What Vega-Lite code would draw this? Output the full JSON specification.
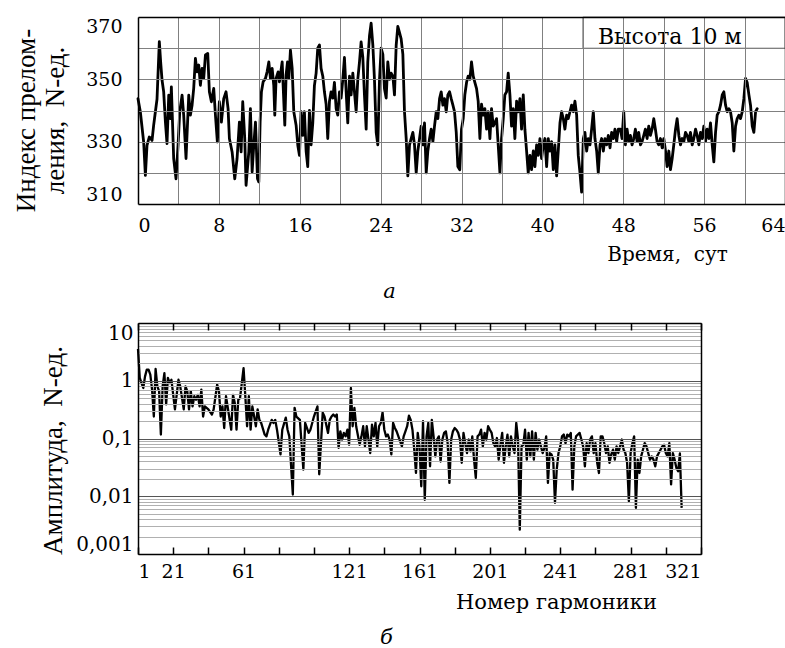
{
"$schema": "https://vega.github.io/schema/vega-lite/v6.json",
"padding": {"left": 11, "top": 16, "right": 0, "bottom": 0},
"bounds": "flush",
"spacing": 119,
"config": {
 "font": "DejaVu Serif",
 "view": {"stroke": null},
 "axis": {"labelFont": "DejaVu Serif", "titleFont": "DejaVu Serif", "labelColor": "black", "titleColor": "black", "titleFontWeight": "normal"},
 "title": {"font": "DejaVu Serif", "color": "black"},
 "text": {"font": "DejaVu Serif"}
},
"datasets": {
 "ts": [
{"t":0,"v":343.8},{"t":0.23,"v":339.6},{"t":0.56,"v":329.9},{"t":0.73,"v":319.2},{"t":0.89,"v":328.8},{"t":1.12,"v":331.5},{"t":1.39,"v":330.4},{"t":1.55,"v":335.3},{"t":1.72,"v":339.6},{"t":1.88,"v":343.6},{"t":2.11,"v":362.1},{"t":2.24,"v":355.6},{"t":2.38,"v":349.7},{"t":2.54,"v":346.0},{"t":2.71,"v":336.3},{"t":2.87,"v":329.4},{"t":3.04,"v":344.9},{"t":3.20,"v":337.4},{"t":3.30,"v":347.6},{"t":3.53,"v":324.6},{"t":3.76,"v":318.1},{"t":3.96,"v":328.8},{"t":4.13,"v":339.6},{"t":4.36,"v":344.9},{"t":4.52,"v":338.5},{"t":4.75,"v":324.6},{"t":5.02,"v":344.9},{"t":5.18,"v":338.5},{"t":5.35,"v":341.7},{"t":5.51,"v":347.1},{"t":5.68,"v":356.7},{"t":5.84,"v":352.4},{"t":6.01,"v":354.6},{"t":6.17,"v":348.1},{"t":6.34,"v":353.5},{"t":6.50,"v":350.3},{"t":6.67,"v":357.8},{"t":6.90,"v":358.3},{"t":7.06,"v":346.0},{"t":7.26,"v":342.8},{"t":7.49,"v":347.1},{"t":7.66,"v":338.5},{"t":7.85,"v":329.9},{"t":8.05,"v":342.8},{"t":8.25,"v":336.3},{"t":8.48,"v":343.8},{"t":8.71,"v":346.0},{"t":8.91,"v":340.6},{"t":9.04,"v":331.0},{"t":9.31,"v":326.7},{"t":9.57,"v":318.1},{"t":9.80,"v":324.6},{"t":10.03,"v":336.3},{"t":10.20,"v":326.7},{"t":10.36,"v":342.8},{"t":10.56,"v":331.0},{"t":10.69,"v":316.0},{"t":10.96,"v":326.7},{"t":11.12,"v":340.6},{"t":11.29,"v":320.3},{"t":11.45,"v":328.8},{"t":11.62,"v":336.3},{"t":11.82,"v":318.1},{"t":11.95,"v":317.1},{"t":12.08,"v":336.3},{"t":12.21,"v":346.0},{"t":12.38,"v":349.2},{"t":12.61,"v":350.3},{"t":12.77,"v":352.4},{"t":12.94,"v":355.6},{"t":13.10,"v":350.3},{"t":13.27,"v":353.5},{"t":13.43,"v":348.1},{"t":13.53,"v":338.5},{"t":13.66,"v":350.3},{"t":13.86,"v":352.4},{"t":13.99,"v":349.2},{"t":14.26,"v":355.6},{"t":14.52,"v":335.3},{"t":14.65,"v":351.4},{"t":14.79,"v":355.6},{"t":14.92,"v":350.3},{"t":15.08,"v":359.4},{"t":15.25,"v":353.5},{"t":15.41,"v":339.6},{"t":15.64,"v":335.3},{"t":15.81,"v":328.8},{"t":15.97,"v":325.6},
{"t":16.13,"v":339.6},{"t":16.30,"v":332},{"t":16.46,"v":339.6},{"t":16.63,"v":327},{"t":16.79,"v":322},{"t":16.96,"v":340},{"t":17.12,"v":329},{"t":17.29,"v":336},{"t":17.45,"v":348},{"t":17.62,"v":352},{"t":17.78,"v":360},{"t":17.95,"v":361},{"t":18.11,"v":353.5},{"t":18.28,"v":351},{"t":18.44,"v":346},{"t":18.61,"v":342},{"t":18.77,"v":331},{"t":18.94,"v":343},{"t":19.10,"v":346},{"t":19.27,"v":344},{"t":19.43,"v":349},{"t":19.60,"v":340.6},{"t":19.76,"v":338.5},{"t":19.93,"v":346},{"t":20.09,"v":344},{"t":20.26,"v":350},{"t":20.42,"v":357},{"t":20.59,"v":346},{"t":20.75,"v":336},{"t":20.92,"v":351},{"t":21.08,"v":345},{"t":21.25,"v":352},{"t":21.41,"v":346},{"t":21.58,"v":339.6},{"t":21.74,"v":350},{"t":21.91,"v":355.6},{"t":22.07,"v":362},{"t":22.24,"v":357},{"t":22.40,"v":345},{"t":22.57,"v":334},{"t":22.73,"v":355.6},{"t":22.90,"v":364},{"t":23.06,"v":368},{"t":23.23,"v":361},{"t":23.39,"v":350},{"t":23.56,"v":333},{"t":23.72,"v":329},{"t":23.89,"v":350},{"t":24.05,"v":360},{"t":24.22,"v":358},{"t":24.38,"v":347},{"t":24.55,"v":344},{"t":24.71,"v":355.6},{"t":24.88,"v":350},{"t":25.04,"v":352},{"t":25.21,"v":351},{"t":25.37,"v":345},{"t":25.54,"v":361},{"t":25.70,"v":367},{"t":25.87,"v":365},{"t":26.03,"v":363},{"t":26.20,"v":358},{"t":26.36,"v":339.6},{"t":26.53,"v":331},{"t":26.69,"v":319},{"t":26.86,"v":329},{"t":27.02,"v":331},{"t":27.19,"v":333},{"t":27.35,"v":329},{"t":27.52,"v":320},{"t":27.68,"v":327},{"t":27.85,"v":331},{"t":28.01,"v":335},{"t":28.18,"v":329},{"t":28.34,"v":336},{"t":28.51,"v":320},{"t":28.67,"v":327},{"t":28.84,"v":331},{"t":29.00,"v":334},{"t":29.17,"v":330},{"t":29.33,"v":335},{"t":29.50,"v":339.6},{"t":29.66,"v":337.4},{"t":29.83,"v":343.8},{"t":29.99,"v":346},{"t":30.16,"v":341.7},{"t":30.32,"v":343.8},{"t":30.49,"v":339.6},{"t":30.65,"v":345},{"t":30.82,"v":346},{"t":30.98,"v":343.8},{"t":31.15,"v":341.7},{"t":31.31,"v":339.6},{"t":31.48,"v":333},{"t":31.64,"v":322},
{"t":31.83,"v":321},{"t":32.00,"v":334},{"t":32.17,"v":337.4},{"t":32.33,"v":345},{"t":32.50,"v":349},{"t":32.66,"v":351},{"t":32.83,"v":350},{"t":32.99,"v":355.6},{"t":33.16,"v":351},{"t":33.32,"v":349},{"t":33.49,"v":347},{"t":33.65,"v":343},{"t":33.82,"v":331},{"t":33.98,"v":342},{"t":34.15,"v":338.5},{"t":34.31,"v":340.6},{"t":34.48,"v":334},{"t":34.64,"v":339.6},{"t":34.81,"v":331},{"t":34.97,"v":340.6},{"t":35.14,"v":335},{"t":35.30,"v":336},{"t":35.47,"v":337.4},{"t":35.63,"v":329},{"t":35.80,"v":320},{"t":35.96,"v":331},{"t":36.13,"v":337.4},{"t":36.29,"v":345},{"t":36.46,"v":346},{"t":36.62,"v":352},{"t":36.79,"v":345},{"t":36.95,"v":335},{"t":37.12,"v":340.6},{"t":37.28,"v":331},{"t":37.45,"v":343},{"t":37.61,"v":339.6},{"t":37.78,"v":343.8},{"t":37.94,"v":334},{"t":38.11,"v":345},{"t":38.27,"v":334},{"t":38.44,"v":327},{"t":38.60,"v":320},{"t":38.77,"v":325.6},{"t":38.93,"v":321},{"t":39.10,"v":327},{"t":39.26,"v":322},{"t":39.43,"v":329},{"t":39.59,"v":325.6},{"t":39.76,"v":331},{"t":39.92,"v":324.6},{"t":40.09,"v":329},{"t":40.25,"v":331},{"t":40.42,"v":322},{"t":40.58,"v":331},{"t":40.75,"v":327},{"t":40.91,"v":330},{"t":41.08,"v":321},{"t":41.24,"v":329},{"t":41.41,"v":319},{"t":41.57,"v":327},{"t":41.74,"v":336},{"t":41.90,"v":339.6},{"t":42.07,"v":337.4},{"t":42.23,"v":334},{"t":42.40,"v":338.5},{"t":42.56,"v":337.4},{"t":42.73,"v":339.6},{"t":42.89,"v":341.7},{"t":43.06,"v":339.6},{"t":43.22,"v":343},{"t":43.39,"v":338.5},{"t":43.55,"v":325.6},{"t":43.72,"v":320},{"t":43.88,"v":313.8},{"t":44.05,"v":331},{"t":44.21,"v":333},{"t":44.38,"v":327},{"t":44.54,"v":331},{"t":44.71,"v":329},{"t":44.87,"v":334},{"t":45.04,"v":339.6},{"t":45.20,"v":331},{"t":45.37,"v":327},{"t":45.53,"v":320},{"t":45.70,"v":329},{"t":45.86,"v":331},{"t":46.03,"v":327},{"t":46.19,"v":331},{"t":46.36,"v":329},{"t":46.52,"v":332},{"t":46.69,"v":328},{"t":46.85,"v":333},{"t":47.02,"v":331},{"t":47.18,"v":334},{"t":47.35,"v":330},{"t":47.51,"v":334},
{"t":47.72,"v":334},{"t":47.88,"v":331},{"t":48.05,"v":339.6},{"t":48.21,"v":329},{"t":48.38,"v":334},{"t":48.54,"v":330},{"t":48.71,"v":332},{"t":48.87,"v":329},{"t":49.04,"v":331},{"t":49.20,"v":334},{"t":49.37,"v":330},{"t":49.53,"v":333},{"t":49.70,"v":329},{"t":49.86,"v":330},{"t":50.03,"v":332},{"t":50.19,"v":334},{"t":50.36,"v":331},{"t":50.52,"v":335},{"t":50.69,"v":332},{"t":50.85,"v":334},{"t":51.02,"v":337.4},{"t":51.18,"v":334},{"t":51.35,"v":330},{"t":51.51,"v":329},{"t":51.68,"v":331},{"t":51.85,"v":328},{"t":52.01,"v":331},{"t":52.18,"v":327},{"t":52.34,"v":322},{"t":52.51,"v":327},{"t":52.67,"v":321},{"t":52.84,"v":324.6},{"t":53.00,"v":329},{"t":53.17,"v":334},{"t":53.33,"v":337.4},{"t":53.50,"v":332},{"t":53.66,"v":329},{"t":53.83,"v":331},{"t":53.99,"v":330},{"t":54.16,"v":333},{"t":54.32,"v":332},{"t":54.49,"v":330},{"t":54.65,"v":333},{"t":54.82,"v":329},{"t":54.98,"v":331},{"t":55.15,"v":334},{"t":55.31,"v":332},{"t":55.48,"v":329},{"t":55.64,"v":333},{"t":55.81,"v":331},{"t":55.97,"v":335},{"t":56.14,"v":330},{"t":56.30,"v":334},{"t":56.47,"v":331},{"t":56.63,"v":336},{"t":56.80,"v":329},{"t":56.96,"v":323.5},{"t":57.13,"v":333},{"t":57.29,"v":338.5},{"t":57.46,"v":339.6},{"t":57.62,"v":341.7},{"t":57.79,"v":345},{"t":57.95,"v":346},{"t":58.12,"v":341.7},{"t":58.28,"v":339.6},{"t":58.45,"v":340.6},{"t":58.61,"v":339.6},{"t":58.78,"v":336},{"t":58.94,"v":327},{"t":59.11,"v":335},{"t":59.27,"v":337.4},{"t":59.44,"v":338.5},{"t":59.60,"v":337.4},{"t":59.77,"v":339.6},{"t":59.93,"v":343.8},{"t":60.10,"v":350.3},{"t":60.26,"v":349},{"t":60.43,"v":345},{"t":60.59,"v":341.7},{"t":60.76,"v":335},{"t":60.92,"v":333},{"t":61.09,"v":339.6},{"t":61.25,"v":340.6}
 ],
 "sp": [
{"n":1,"a":3.55},{"n":2,"a":1.12},{"n":3,"a":0.91},{"n":4,"a":0.75},{"n":5,"a":1.19},{"n":6,"a":1.56},{"n":7,"a":1.56},{"n":8,"a":1.28},{"n":9,"a":0.7},{"n":10,"a":0.24},{"n":11,"a":1.6},{"n":12,"a":0.8},{"n":13,"a":0.66},{"n":14,"a":0.117},{"n":15,"a":0.8},{"n":16,"a":1.36},{"n":17,"a":0.39},{"n":18,"a":1.12},{"n":19,"a":0.91},{"n":20,"a":1.04},{"n":22,"a":0.32},{"n":24,"a":1.04},{"n":25,"a":0.8},{"n":27,"a":0.32},{"n":28,"a":0.8},{"n":29,"a":0.66},{"n":30,"a":0.32},{"n":31,"a":0.66},{"n":32,"a":0.36},{"n":33,"a":0.54},{"n":34,"a":0.47},{"n":35,"a":0.57},{"n":36,"a":0.36},{"n":37,"a":0.7},{"n":38,"a":0.24},{"n":39,"a":0.36},{"n":41,"a":0.32},{"n":43,"a":0.26},{"n":44,"a":0.32},{"n":46,"a":0.86},{"n":47,"a":0.66},{"n":48,"a":0.24},{"n":49,"a":0.36},{"n":50,"a":0.152},{"n":51,"a":0.54},{"n":54,"a":0.142},{"n":55,"a":0.57},{"n":56,"a":0.41},{"n":57,"a":0.142},{"n":58,"a":0.47},{"n":59,"a":0.5},{"n":61,"a":1.66},{"n":62,"a":0.54},{"n":63,"a":0.163},{"n":64,"a":0.54},{"n":65,"a":0.142},{"n":66,"a":0.36},{"n":68,"a":0.163},{"n":69,"a":0.32},{"n":70,"a":0.21},{"n":71,"a":0.186},{"n":73,"a":0.117},{"n":74,"a":0.109},{"n":75,"a":0.142},{"n":77,"a":0.21},{"n":78,"a":0.186},{"n":79,"a":0.21},{"n":80,"a":0.142},{"n":82,"a":0.053},{"n":83,"a":0.142},{"n":85,"a":0.23},{"n":86,"a":0.142},{"n":87,"a":0.109},{"n":89,"a":0.0107},{"n":90,"a":0.34},{"n":91,"a":0.24},{"n":93,"a":0.21},{"n":95,"a":0.029},{"n":96,"a":0.186},{"n":98,"a":0.125},{"n":99,"a":0.142},{"n":101,"a":0.24},{"n":103,"a":0.36},{"n":104,"a":0.024},{"n":106,"a":0.28},{"n":107,"a":0.24},{"n":109,"a":0.125},
{"n":110,"a":0.21},{"n":111,"a":0.24},{"n":112,"a":0.26},{"n":113,"a":0.24},{"n":114,"a":0.26},{"n":115,"a":0.069},{"n":116,"a":0.133},{"n":117,"a":0.096},{"n":118,"a":0.125},{"n":119,"a":0.109},{"n":120,"a":0.142},{"n":121,"a":0.078},{"n":122,"a":0.75},{"n":123,"a":0.163},{"n":124,"a":0.34},{"n":125,"a":0.163},{"n":127,"a":0.078},{"n":128,"a":0.109},{"n":129,"a":0.163},{"n":130,"a":0.073},{"n":131,"a":0.163},{"n":132,"a":0.096},{"n":133,"a":0.056},{"n":134,"a":0.174},{"n":135,"a":0.109},{"n":136,"a":0.186},{"n":137,"a":0.073},{"n":138,"a":0.163},{"n":139,"a":0.186},{"n":140,"a":0.284},{"n":141,"a":0.142},{"n":142,"a":0.109},{"n":143,"a":0.117},{"n":144,"a":0.096},{"n":145,"a":0.053},{"n":146,"a":0.186},{"n":147,"a":0.152},{"n":148,"a":0.133},{"n":149,"a":0.109},{"n":150,"a":0.089},{"n":151,"a":0.073},{"n":152,"a":0.109},{"n":153,"a":0.133},{"n":154,"a":0.163},{"n":155,"a":0.249},{"n":156,"a":0.21},{"n":157,"a":0.142},{"n":158,"a":0.065},{"n":159,"a":0.0253},{"n":160,"a":0.125},{"n":161,"a":0.073},{"n":162,"a":0.0149},{"n":163,"a":0.199},{"n":164,"a":0.0087},{"n":165,"a":0.109},{"n":166,"a":0.186},{"n":167,"a":0.033},{"n":168,"a":0.21},{"n":169,"a":0.109},{"n":170,"a":0.049},{"n":171,"a":0.096},{"n":172,"a":0.109},{"n":173,"a":0.040},{"n":174,"a":0.096},{"n":175,"a":0.125},{"n":176,"a":0.133},{"n":177,"a":0.083},{"n":178,"a":0.017},{"n":179,"a":0.096},{"n":180,"a":0.133},{"n":181,"a":0.152},{"n":182,"a":0.142},{"n":183,"a":0.125},{"n":184,"a":0.096},{"n":185,"a":0.038},{"n":186,"a":0.125},{"n":187,"a":0.083},{"n":188,"a":0.056},{"n":189,"a":0.096},{"n":190,"a":0.060},{"n":191,"a":0.109},{"n":192,"a":0.043},{"n":193,"a":0.0208},{"n":194,"a":0.109},{"n":195,"a":0.117},{"n":196,"a":0.142},{"n":197,"a":0.073},{"n":198,"a":0.125},{"n":199,"a":0.096},{"n":200,"a":0.163},{"n":201,"a":0.142},{"n":202,"a":0.125},{"n":203,"a":0.083},{"n":204,"a":0.073},{"n":205,"a":0.102},{"n":206,"a":0.043},{"n":207,"a":0.078},{"n":208,"a":0.125},{"n":209,"a":0.038},{"n":210,"a":0.073},{"n":211,"a":0.117},{"n":212,"a":0.049},{"n":213,"a":0.109},{"n":214,"a":0.073},{"n":215,"a":0.056},{"n":216,"a":0.186},{"n":217,"a":0.096},{"n":218,"a":0.00264},
{"n":219,"a":0.073},{"n":220,"a":0.078},{"n":221,"a":0.142},{"n":222,"a":0.043},{"n":223,"a":0.125},{"n":224,"a":0.049},{"n":225,"a":0.133},{"n":226,"a":0.043},{"n":227,"a":0.125},{"n":228,"a":0.064},{"n":229,"a":0.096},{"n":230,"a":0.073},{"n":231,"a":0.056},{"n":232,"a":0.069},{"n":233,"a":0.109},{"n":234,"a":0.017},{"n":235,"a":0.056},{"n":236,"a":0.053},{"n":237,"a":0.043},{"n":238,"a":0.0077},{"n":239,"a":0.029},{"n":240,"a":0.056},{"n":241,"a":0.073},{"n":242,"a":0.109},{"n":243,"a":0.117},{"n":244,"a":0.083},{"n":245,"a":0.117},{"n":246,"a":0.109},{"n":247,"a":0.125},{"n":248,"a":0.013},{"n":249,"a":0.073},{"n":250,"a":0.109},{"n":251,"a":0.117},{"n":252,"a":0.125},{"n":253,"a":0.096},{"n":254,"a":0.073},{"n":255,"a":0.033},{"n":256,"a":0.083},{"n":257,"a":0.056},{"n":258,"a":0.096},{"n":259,"a":0.109},{"n":260,"a":0.056},{"n":261,"a":0.083},{"n":262,"a":0.038},{"n":263,"a":0.0253},{"n":264,"a":0.109},{"n":265,"a":0.109},{"n":266,"a":0.083},{"n":267,"a":0.056},{"n":268,"a":0.073},{"n":269,"a":0.038},{"n":270,"a":0.053},{"n":271,"a":0.064},{"n":272,"a":0.043},{"n":273,"a":0.073},{"n":274,"a":0.056},{"n":275,"a":0.073},{"n":276,"a":0.096},{"n":277,"a":0.064},{"n":278,"a":0.056},{"n":279,"a":0.038},{"n":280,"a":0.0082},{"n":281,"a":0.056},{"n":282,"a":0.083},{"n":283,"a":0.109},{"n":284,"a":0.0063},{"n":285,"a":0.043},{"n":286,"a":0.0253},{"n":287,"a":0.049},{"n":288,"a":0.064},{"n":289,"a":0.083},{"n":290,"a":0.073},{"n":291,"a":0.056},{"n":292,"a":0.043},{"n":293,"a":0.049},{"n":294,"a":0.043},{"n":295,"a":0.033},{"n":296,"a":0.049},{"n":297,"a":0.056},{"n":298,"a":0.064},{"n":299,"a":0.073},{"n":300,"a":0.078},{"n":301,"a":0.056},{"n":302,"a":0.049},{"n":303,"a":0.083},{"n":304,"a":0.016},{"n":305,"a":0.056},{"n":306,"a":0.043},{"n":307,"a":0.031},{"n":308,"a":0.027},{"n":309,"a":0.055},{"n":310,"a":0.0063}
 ]
},
"vconcat": [
 {
  "width": 647,
  "height": 187,
  "title": {"text": "а", "orient": "bottom", "anchor": "middle", "dx": -72, "offset": 17, "fontSize": 21, "fontStyle": "italic", "fontWeight": "normal"},
  "layer": [
   {
    "data": {"name": "ts"},
    "mark": {"type": "line", "color": "black", "strokeWidth": 2.8, "strokeJoin": "round", "strokeCap": "round"},
    "encoding": {
     "x": {"field": "t", "type": "quantitative", "scale": {"domain": [0, 64], "nice": false, "zero": false},
      "axis": {"orient": "bottom", "values": [0,4,8,12,16,20,24,28,32,36,40,44,48,52,56,60,64],
       "grid": true, "gridWidth": 1,
       "gridColor": {"condition": {"test": "datum.value == 0 || datum.value == 64", "value": "rgba(0,0,0,0)"}, "value": "#808080"},
       "ticks": false, "domain": true, "domainColor": "black", "domainWidth": 1.5,
       "labelExpr": "datum.value % 8 == 0 ? datum.label : ''", "labelFlush": true, "labelPadding": 12, "labelFontSize": 19,
       "title": "Время,\u00a0\u00a0сут", "titleFontSize": 20, "titleX": 529, "titleY": 56, "titleAlign": "center", "titleBaseline": "alphabetic", "zindex": 1}},
     "y": {"field": "v", "type": "quantitative", "scale": {"domain": [310, 370], "nice": false, "zero": false},
      "axis": {"orient": "left", "values": [310,320,330,340,350,360,370],
       "grid": true, "gridWidth": 1,
       "gridColor": {"condition": {"test": "datum.value == 310 || datum.value == 370", "value": "rgba(0,0,0,0)"}, "value": "#808080"},
       "ticks": false, "domain": true, "domainColor": "black", "domainWidth": 1.5,
       "labelExpr": "(datum.value - 310) % 20 == 0 ? datum.label : ''", "labelFlush": true, "labelPadding": 16, "labelFontSize": 19,
       "title": ["Индекс прелом-", "ления,\u00a0\u00a0N-ед."], "titleFont": "Liberation Serif", "titleFontSize": 27, "titleLineHeight": 29,
       "titleX": -104, "titleY": 103, "titleAlign": "center", "titleBaseline": "alphabetic", "zindex": 1}}
    }
   },
   {
    "data": {"values": [{}]},
    "mark": {"type": "rect", "fill": "white", "stroke": "#808080", "strokeWidth": 1},
    "encoding": {
     "x": {"datum": 44, "type": "quantitative",
      "axis": {"orient": "top", "values": [0,4,8,12,16,20,24,28,32,36,40,44,48,52,56,60,64], "grid": false, "labels": false,
       "ticks": true, "tickSize": -5, "tickColor": "#808080", "tickWidth": 1,
       "domain": true, "domainColor": "black", "domainWidth": 1.5, "title": null, "zindex": 1}},
     "x2": {"datum": 64},
     "y": {"datum": 360, "type": "quantitative",
      "axis": {"orient": "right", "grid": false, "labels": false, "ticks": false,
       "domain": true, "domainColor": "black", "domainWidth": 1.5, "title": null, "zindex": 1}},
     "y2": {"datum": 370}
    }
   },
   {
    "data": {"values": [{"label": "Высота 10 м"}]},
    "mark": {"type": "text", "fontSize": 22, "align": "center", "baseline": "alphabetic", "color": "black"},
    "encoding": {
     "x": {"datum": 52.6, "type": "quantitative", "axis": null},
     "y": {"datum": 361.2, "type": "quantitative", "axis": null},
     "text": {"field": "label"}
    }
   }
  ]
 },
 {
  "width": 563,
  "height": 231,
  "title": {"text": "б", "orient": "bottom", "anchor": "middle", "dx": -33, "offset": 15, "fontSize": 21, "fontStyle": "italic", "fontWeight": "normal"},
  "layer": [
   {
    "data": {"name": "sp"},
    "mark": {"type": "line", "color": "black", "strokeWidth": 2.3, "strokeJoin": "round"},
    "encoding": {
     "x": {"field": "n", "type": "quantitative", "scale": {"domain": [1, 321], "nice": false, "zero": false},
      "axis": {"orient": "bottom", "values": [1,21,41,61,81,101,121,141,161,181,201,221,241,261,281,301,321],
       "grid": false, "ticks": true, "tickSize": -7, "tickColor": "black", "tickWidth": 1.5,
       "domain": true, "domainColor": "black", "domainWidth": 1.5,
       "labelExpr": "(datum.value == 1 || datum.value == 21 || datum.value == 61 || (datum.value >= 121 && (datum.value - 1) % 40 == 0)) ? datum.label : ''",
       "labelPadding": 15, "labelFontSize": 19, "labelOverlap": false,
       "title": "Номер гармоники", "titleFontSize": 21, "titleX": 418, "titleY": 54, "titleAlign": "center", "titleBaseline": "alphabetic", "zindex": 1}},
     "y": {"field": "a", "type": "quantitative", "scale": {"type": "log", "domain": [0.001, 10], "nice": false},
      "axis": {"orient": "left",
       "values": [0.001,0.002,0.003,0.004,0.005,0.006,0.007,0.008,0.009,0.01,0.02,0.03,0.04,0.05,0.06,0.07,0.08,0.09,0.1,0.2,0.3,0.4,0.5,0.6,0.7,0.8,0.9,1,2,3,4,5,6,7,8,9,10],
       "grid": true, "gridWidth": 1,
       "gridColor": {"condition": {"test": "abs(log(datum.value)/LN10 - round(log(datum.value)/LN10)) < 0.001", "value": "#555555"}, "value": "#b0b0b0"},
       "ticks": false, "domain": true, "domainColor": "black", "domainWidth": 1.5,
       "labelExpr": "abs(log(datum.value)/LN10 - round(log(datum.value)/LN10)) < 0.001 ? replace(format(datum.value, '~g'), '.', ',') : ''",
       "labelFlush": true, "labelOverlap": false, "labelPadding": 5, "labelFontSize": 20,
       "title": "Амплитуда,\u00a0\u00a0N-ед.", "titleFont": "Liberation Serif", "titleFontSize": 27, "titleX": -77, "titleY": 127, "titleAlign": "center", "titleBaseline": "alphabetic", "zindex": 1}}
    }
   },
   {
    "data": {"name": "sp"},
    "mark": {"type": "point", "opacity": 0},
    "encoding": {
     "x": {"field": "n", "type": "quantitative",
      "axis": {"orient": "top", "values": [1,21,41,61,81,101,121,141,161,181,201,221,241,261,281,301,321], "grid": false, "labels": false,
       "ticks": true, "tickSize": -7, "tickColor": "black", "tickWidth": 1.5,
       "domain": true, "domainColor": "black", "domainWidth": 1.5, "title": null, "zindex": 1}},
     "y": {"field": "a", "type": "quantitative",
      "axis": {"orient": "right", "grid": false, "labels": false, "ticks": false,
       "domain": true, "domainColor": "black", "domainWidth": 1.5, "title": null, "zindex": 1}}
    }
   }
  ]
 }
]
}
